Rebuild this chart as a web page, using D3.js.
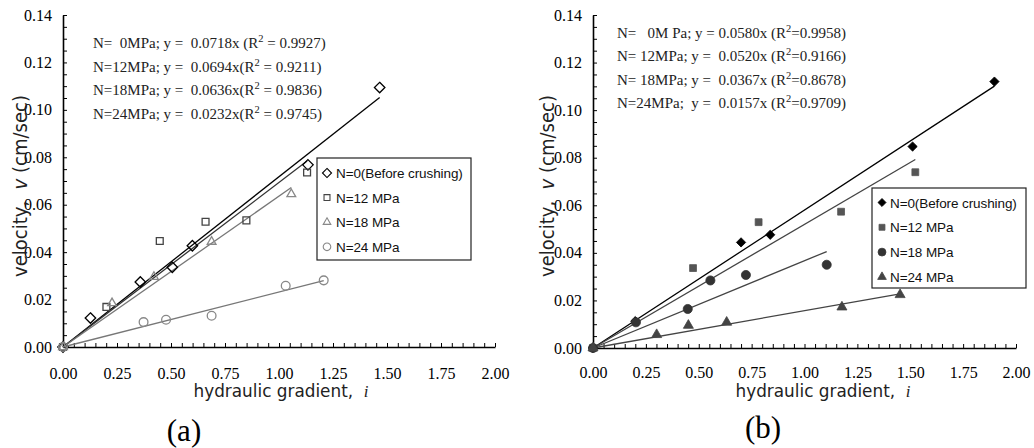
<!DOCTYPE html>
<html>
<head>
<meta charset="utf-8">
<script src="https://cdn.jsdelivr.net/npm/d3@7"></script>
<style>
  html, body { margin: 0; padding: 0; background: #fff; }
  svg { display: block; }
  text { white-space: pre; }
</style>
</head>
<body>
<svg id="chart" width="1034" height="448"></svg>
<script>
// Axis ticks shared by both panels
const xTicks = [0, 0.25, 0.5, 0.75, 1.0, 1.25, 1.5, 1.75, 2.0];
const yTicks = [0, 0.02, 0.04, 0.06, 0.08, 0.10, 0.12, 0.14];
const seriesNames = ["N=0(Before crushing)", "N=12 MPa", "N=18 MPa", "N=24 MPa"];

// Panel (a): hydraulic gradient i vs. velocity v (cm/sec)
const aN0  = [[0, 0], [0.127, 0.0122], [0.358, 0.0274], [0.506, 0.0336], [0.599, 0.0427], [1.134, 0.0768], [1.466, 0.1094]];
const aN12 = [[0, 0], [0.201, 0.0169], [0.448, 0.0447], [0.660, 0.0528], [0.849, 0.0534], [1.130, 0.0736]];
const aN18 = [[0, 0], [0.227, 0.0185], [0.421, 0.0296], [0.688, 0.0444], [1.057, 0.0645]];
const aN24 = [[0, 0], [0.373, 0.0105], [0.477, 0.0115], [0.688, 0.0132], [1.031, 0.0258], [1.207, 0.0281]];
const aSlopes = [0.0718, 0.0694, 0.0636, 0.0232];
const aEquations = [
  ["N=  0MPa; y =  0.0718x (R", "2", " = 0.9927)"],
  ["N=12MPa; y =  0.0694x(R", "2", " = 0.9211)"],
  ["N=18MPa; y =  0.0636x(R", "2", " = 0.9836)"],
  ["N=24MPa; y =  0.0232x(R", "2", " = 0.9745)"]
];

// Panel (b)
const bN0  = [[0, 0], [0.200, 0.0113], [0.700, 0.0444], [0.838, 0.0476], [1.511, 0.0847], [1.898, 0.1120]];
const bN12 = [[0, 0], [0.473, 0.0336], [0.783, 0.0529], [1.173, 0.0573], [1.524, 0.0739]];
const bN18 = [[0, 0], [0.203, 0.0108], [0.448, 0.0164], [0.555, 0.0284], [0.723, 0.0307], [1.105, 0.0350]];
const bN24 = [[0, 0], [0.301, 0.0056], [0.451, 0.0095], [0.632, 0.0108], [1.177, 0.0172], [1.452, 0.0224]];
const bSlopes = [0.0580, 0.0520, 0.0367, 0.0157];
const bEquations = [
  ["N=   0M Pa; y = 0.0580x (R", "2", "=0.9958)"],
  ["N= 12MPa; y =  0.0520x (R", "2", "=0.9166)"],
  ["N= 18MPa; y =  0.0367x (R", "2", "=0.8678)"],
  ["N=24MPa;  y =  0.0157x (R", "2", "=0.9709)"]
];

const svg = d3.select("#chart");
const serif = "'Liberation Serif', 'Times New Roman', serif";
const sans = "'Liberation Sans', Arial, sans-serif";
const wide = "'DejaVu Sans', Verdana, sans-serif";

const symbolFor = { diamond: d3.symbolDiamond2, square: d3.symbolSquare2, triangle: d3.symbolTriangle2, circle: d3.symbolCircle };

function drawPanel(p) {
  const x = d3.scaleLinear().domain([0, 2]).range([p.x0, p.x1]);
  const y = d3.scaleLinear().domain([0, 0.14]).range([p.y0, p.y1]);
  const g = svg.append("g");

  // minor ticks pointing into the plot
  const xMinor = d3.range(0, 2.0001, 0.05);
  const yMinor = d3.range(0, 0.14001, 0.005);
  g.append("g").attr("transform", `translate(0,${p.y0})`)
    .call(d3.axisTop(x).tickValues(xMinor).tickSize(4).tickSizeOuter(0).tickFormat(""))
    .call(a => a.selectAll("line").attr("stroke", "#000").attr("stroke-width", 1))
    .call(a => a.select(".domain").attr("stroke", "#000").attr("stroke-width", 1.6));
  g.append("g").attr("transform", `translate(${p.x0},0)`)
    .call(d3.axisRight(y).tickValues(yMinor).tickSize(4).tickSizeOuter(0).tickFormat(""))
    .call(a => a.selectAll("line").attr("stroke", "#000").attr("stroke-width", 1))
    .call(a => a.select(".domain").attr("stroke", "#000").attr("stroke-width", 1.6));

  // tick labels
  g.append("g").attr("transform", `translate(0,${p.y0})`)
    .call(d3.axisBottom(x).tickValues(xTicks).tickSize(0).tickPadding(p.xLabelPad).tickFormat(d3.format(".2f")))
    .call(a => a.select(".domain").remove())
    .call(a => a.selectAll("text").attr("font-family", serif).attr("font-size", 16).attr("fill", "#000"));
  g.append("g").attr("transform", `translate(${p.x0},0)`)
    .call(d3.axisLeft(y).tickValues(yTicks).tickSize(0).tickPadding(11).tickFormat(d3.format(".2f")))
    .call(a => a.select(".domain").remove())
    .call(a => a.selectAll("text").attr("font-family", serif).attr("font-size", 16).attr("fill", "#000"));

  // axis titles
  const xt = g.append("text")
    .attr("x", p.xTitleX).attr("y", p.xTitleY)
    .attr("text-anchor", "middle").attr("font-family", wide).attr("font-size", 17).attr("fill", "#222")
    .attr("textLength", 175).attr("lengthAdjust", "spacingAndGlyphs");
  xt.append("tspan").text("hydraulic gradient,  ");
  xt.append("tspan").attr("font-family", serif).attr("font-style", "italic").text("i");

  const yt = g.append("text")
    .attr("transform", `translate(${p.yTitleX},${p.yTitleY}) rotate(-90)`)
    .attr("text-anchor", "middle").attr("font-family", wide).attr("font-size", p.yTitleSize).attr("fill", "#222")
    .attr("textLength", 182).attr("lengthAdjust", "spacingAndGlyphs");
  yt.append("tspan").text("velocity,  ");
  yt.append("tspan").attr("font-style", "italic").text("v");
  yt.append("tspan").text(" (cm/sec)");

  // panel label
  g.append("text").attr("x", p.tagX).attr("y", p.tagY).attr("text-anchor", "middle")
    .attr("font-family", serif).attr("font-size", 31).attr("fill", "#000").text(p.tag);

  // regression lines and points
  p.series.forEach((s, k) => {
    const xmax = d3.max(s.data, d => d[0]);
    g.append("line")
      .attr("x1", x(0)).attr("y1", y(0))
      .attr("x2", x(xmax)).attr("y2", y(p.slopes[k] * xmax))
      .attr("stroke", s.line).attr("stroke-width", 1.3);
  });
  p.series.forEach(s => {
    g.append("g").selectAll("path").data(s.data).join("path")
      .attr("transform", d => `translate(${x(d[0])},${y(d[1])})`)
      .attr("d", d3.symbol(symbolFor[s.shape], s.size))
      .attr("fill", s.fill).attr("stroke", s.stroke).attr("stroke-width", s.fill === "none" ? 1.3 : 0.8);
  });

  // fit equations
  p.equations.forEach((eq, k) => {
    const t = g.append("text").attr("x", p.eqX).attr("y", p.eqY + k * p.eqStep)
      .attr("font-family", serif).attr("font-size", 15).attr("fill", "#222");
    t.append("tspan").text(eq[0]);
    t.append("tspan").attr("dy", -6).attr("font-size", 10.5).text(eq[1]);
    t.append("tspan").attr("dy", 6).text(eq[2]);
  });

  // legend
  const L = p.legend;
  g.append("rect").attr("x", L.x).attr("y", L.y).attr("width", L.w).attr("height", L.h)
    .attr("fill", "#fff").attr("stroke", "#222").attr("stroke-width", 1.2);
  p.series.forEach((s, k) => {
    const cy = L.firstY + k * L.step;
    g.append("path").attr("transform", `translate(${L.markX},${cy})`)
      .attr("d", d3.symbol(symbolFor[s.shape], s.size * 0.75))
      .attr("fill", s.fill).attr("stroke", s.stroke).attr("stroke-width", s.fill === "none" ? 1.1 : 0.8);
    g.append("text").attr("x", L.textX).attr("y", cy + 5)
      .attr("font-family", sans).attr("font-size", 13.5).attr("letter-spacing", -0.1).attr("fill", "#111")
      .text(seriesNames[k]);
  });
}

drawPanel({
  x0: 63, x1: 495, y0: 347, y1: 15, xLabelPad: 21,
  tag: "(a)", tagX: 184, tagY: 441,
  xTitleX: 281, xTitleY: 397,
  yTitleX: 27, yTitleY: 186, yTitleSize: 20,
  slopes: aSlopes, equations: aEquations,
  eqX: 93, eqY: 48, eqStep: 23.5,
  legend: { x: 317, y: 158, w: 154, h: 102, firstY: 173, step: 24.6, markX: 327, textX: 336 },
  series: [
    { data: aN0,  shape: "diamond",  size: 70, fill: "none", stroke: "#000", line: "#000" },
    { data: aN12, shape: "square",   size: 60, fill: "none", stroke: "#444", line: "#333" },
    { data: aN18, shape: "triangle", size: 55, fill: "none", stroke: "#888", line: "#777" },
    { data: aN24, shape: "circle",   size: 60, fill: "none", stroke: "#888", line: "#777" }
  ]
});

drawPanel({
  x0: 593, x1: 1016, y0: 348, y1: 15, xLabelPad: 19,
  tag: "(b)", tagX: 763, tagY: 438,
  xTitleX: 823, xTitleY: 397,
  yTitleX: 554, yTitleY: 186, yTitleSize: 19,
  slopes: bSlopes, equations: bEquations,
  eqX: 617, eqY: 38, eqStep: 23.4,
  legend: { x: 872, y: 188, w: 154, h: 100, firstY: 202.5, step: 24.8, markX: 882, textX: 890 },
  series: [
    { data: bN0,  shape: "diamond",  size: 55, fill: "#000", stroke: "#000", line: "#000" },
    { data: bN12, shape: "square",   size: 60, fill: "#555", stroke: "#555", line: "#444" },
    { data: bN18, shape: "circle",   size: 65, fill: "#333", stroke: "#333", line: "#444" },
    { data: bN24, shape: "triangle", size: 72, fill: "#444", stroke: "#444", line: "#444" }
  ]
});
</script>
</body>
</html>
